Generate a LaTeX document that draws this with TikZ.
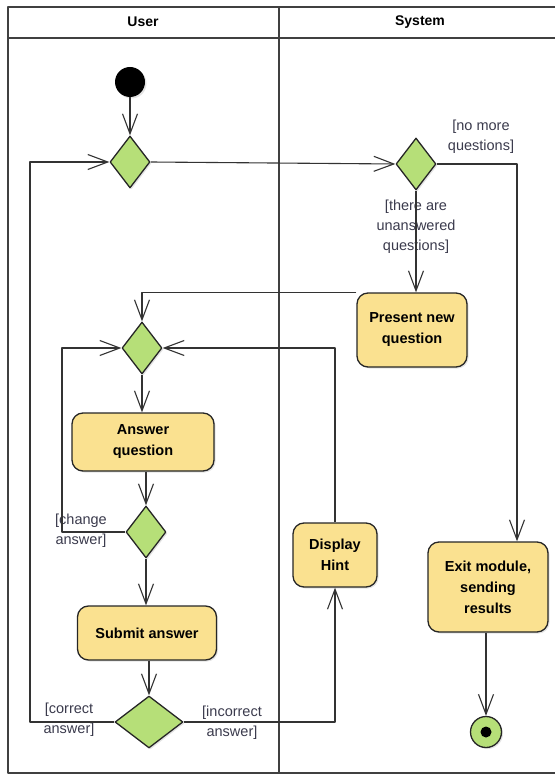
\documentclass[tikz,border=0pt]{standalone}
\usepackage{fontspec}
\setmainfont{Liberation Sans}
\usetikzlibrary{arrows.meta, positioning, shapes.geometric, shadows}

\definecolor{actfill}{HTML}{FAE190}
\definecolor{decfill}{HTML}{B6DF78}
\definecolor{lanegray}{HTML}{404040}
\definecolor{guardtxt}{HTML}{3A3A4C}

\begin{document}
\begin{tikzpicture}[x=1pt, y=-1pt, line join=round,
  every node/.style={font=\fontsize{13}{20}\selectfont},
  softshadow/.style={drop shadow={opacity=0.22, shadow xshift=1.5pt, shadow yshift=-1.5pt}},
  action/.style={draw=black!85, fill=actfill, rounded corners=11pt, line width=1.3pt,
    align=center, inner sep=2pt, softshadow, font=\fontsize{14.5}{21}\selectfont\bfseries},
  decision/.style={diamond, draw=black!85, fill=decfill, line width=1.3pt, inner sep=0pt,
    minimum width=40pt, minimum height=52pt, softshadow},
  guard/.style={text=guardtxt, align=center, font=\fontsize{14.5}{20}\selectfont},
  flow/.style={draw=black!80, line width=1.1pt, -{Straight Barb[length=20pt, width=15pt]}},
  lane/.style={draw=lanegray, line width=1.5pt}]
  \useasboundingbox (0,0) rectangle (555,775);

  % swimlanes
  \draw[lane] (555,7) -- (8,7) -- (8,773) -- (555,773);
  \draw[lane] (8,38) -- (555,38);
  \draw[lane] (279,7) -- (279,773);
  \node[font=\fontsize{14}{16}\selectfont\bfseries] (user) at (143,22) {User};
  \node[font=\fontsize{14}{16}\selectfont\bfseries] (system) at (420,22) {System};

  % nodes
  \node[circle, fill=black, minimum size=30pt, inner sep=0pt, softshadow] (start) at (130,82) {};
  \node[decision] (d1) at (130,162) {};
  \node[decision] (d2) at (416,164) {};
  \node[action, minimum width=110pt, minimum height=74pt] (present) at (412,330) {Present new\\question};
  \node[decision] (d3) at (142,348) {};
  \node[action, minimum width=142pt, minimum height=58pt] (answer) at (143,442) {Answer\\question};
  \node[decision] (d4) at (146,532) {};
  \node[action, minimum width=139pt, minimum height=54pt] (submit) at (147,633) {Submit answer};
  \node[decision, minimum width=68pt] (d5) at (149,722) {};
  \node[action, minimum width=84pt, minimum height=64pt] (hint) at (335,555) {Display\\Hint};
  \node[action, minimum width=120pt, minimum height=90pt] (exit) at (488,587) {Exit module,\\sending\\results};
  \node[circle, draw=black!85, fill=decfill, line width=1.3pt, minimum size=31pt, inner sep=0pt, softshadow] (fin) at (486,732) {};
  \fill (fin.center) circle (5.5pt);

  % guards
  \node[guard] (nomore) at (481,137) {[no more\\questions]};
  \node[guard] (unans) at (416,227) {[there are\\unanswered\\questions]};
  \node[guard] (change) at (81,531) {[change\\answer]};
  \node[guard] (correct) at (69,720) {[correct\\answer]};
  \node[guard] (incorrect) at (232,723) {[incorrect\\answer]};

  % bends of the loops
  \coordinate (chg) at (62,348);
  \coordinate (cor) at (30,162);

  % flows
  \draw[flow] (start) -- (d1);
  \draw[flow] (d1.east) -- (d2.west);
  \draw[flow] (d2.south) -- (d2.south |- present.north);
  \draw[flow] (d2.east) -| ([xshift=29pt]exit.north);
  \draw[flow] (present.north west) -| (d3.north);
  \draw[flow] (d3.south) -- (d3.south |- answer.north);
  \draw[flow] (d4.north |- answer.south) -- (d4.north);
  \draw[flow] (d4.west) -| (chg) -- (d3.west);
  \draw[flow] (d4.south) -- (d4.south |- submit.north);
  \draw[flow] (d5.north |- submit.south) -- (d5.north);
  \draw[flow] (d5.west) -| (cor) -- (d1.west);
  \draw[flow] (d5.east) -| (hint.south);
  \draw[flow] (hint.north) |- (d3.east);
  \draw[flow] (fin.north |- exit.south) -- (fin.north);
\end{tikzpicture}
\end{document}
